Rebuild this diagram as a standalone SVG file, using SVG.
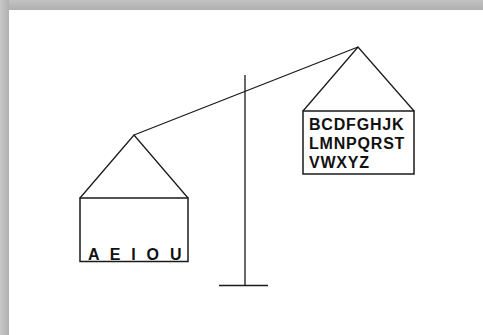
<svg xmlns="http://www.w3.org/2000/svg" width="483" height="335" viewBox="0 0 483 335">
  <defs>
    <linearGradient id="gTop" x1="0" y1="0" x2="0" y2="1">
      <stop offset="0" stop-color="#c2c2c2"/>
      <stop offset="1" stop-color="#b0b0b0"/>
    </linearGradient>
    <linearGradient id="gLeft" x1="0" y1="0" x2="1" y2="0">
      <stop offset="0" stop-color="#c8c8c8"/>
      <stop offset="1" stop-color="#b0b0b0"/>
    </linearGradient>
    <style>
      .ln { stroke: #1a1a1a; stroke-width: 1.3; fill: none; }
      .box { stroke: #1a1a1a; stroke-width: 1.5; fill: #ffffff; }
      .lbl { font-family: "Liberation Sans", Arial, sans-serif; font-weight: bold; font-size: 16px; fill: #111111; letter-spacing: 0.8px; }
    </style>
  </defs>
  <rect x="0" y="0" width="483" height="335" fill="#ffffff"/>
  <rect x="0" y="0" width="483" height="10" fill="url(#gTop)"/>
  <rect x="0" y="0" width="9" height="335" fill="url(#gLeft)"/>
  <rect x="9" y="10" width="474" height="325" fill="#ffffff"/>

  <g id="connectors">
    <line class="ln" x1="134" y1="135" x2="358" y2="47"/>
    <line class="ln" x1="245" y1="75" x2="245" y2="285.5"/>
    <line class="ln" x1="219" y1="285.5" x2="268" y2="285.5"/>
  </g>

  <g id="left-pan">
    <polyline class="ln" points="80,198 134,135 188,198"/>
    <rect class="box" x="80" y="198" width="108" height="63.5"/>
    <text class="lbl" x="88" y="259.5" style="letter-spacing:3.2px">A E I O U</text>
  </g>

  <g id="right-pan">
    <polyline class="ln" points="303,111 358,47 414,111"/>
    <rect class="box" x="303" y="111" width="111" height="63"/>
    <text class="lbl" x="309" y="129.5">BCDFGHJK</text>
    <text class="lbl" x="309" y="148.5">LMNPQRST</text>
    <text class="lbl" x="309" y="168">VWXYZ</text>
  </g>
</svg>
